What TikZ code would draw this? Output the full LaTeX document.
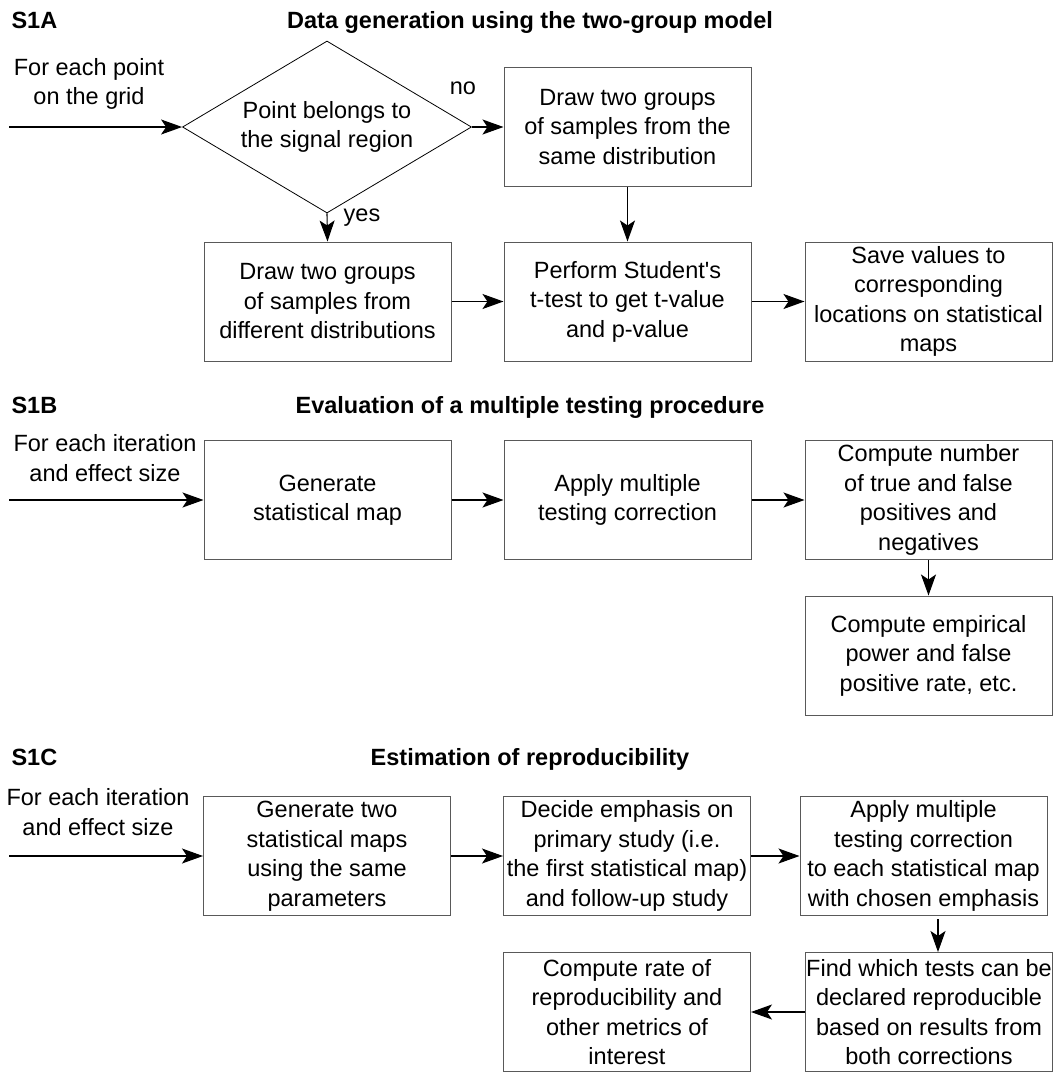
\documentclass[tikz,border=0pt]{standalone}
\usepackage{fontspec}
\setmainfont{Liberation Sans}
\usetikzlibrary{arrows.meta,shapes.geometric}

\begin{document}
\begin{tikzpicture}[x=1pt,y=-1pt,
    font=\fontsize{23.5}{29.5}\selectfont,
    blk/.style={draw=black!65,line width=1pt,minimum width=247pt,
        minimum height=119pt,inner sep=0pt,align=center},
    arr/.style={-{Stealth[length=21pt,width=15pt,inset=5pt]},line width=1.1pt},
    head/.style={font=\fontsize{23.5}{29.5}\selectfont\bfseries}]

\useasboundingbox (0,0) rectangle (1053,1072);

% Loop for each panel heading.
\foreach \lab/\ttl/\y in {S1A/Data generation using the two-group model/28,
                          S1B/Evaluation of a multiple testing procedure/413,
                          S1C/Estimation of reproducibility/765} {

    % Panel letter on the left.
    \node[head,anchor=base west] (lab\lab) at (8,\y) {\lab};

    % Panel title in the middle. End loop.
    \node[head,anchor=base] (ttl\lab) at (530,\y) {\ttl};
}

%
% S1A: data generation.
%
\coordinate (startA) at (9,127);
\node[align=center] (loopA) at (89,84) {For each point\\on the grid};

% decision diamond
\node[diamond,draw,line width=0.8pt,inner sep=0pt,shape aspect=1.68,
    minimum width=289pt,minimum height=172pt,align=center]
    (belong) at (327,127) {Point belongs to\\the signal region};

\node[blk] (samed) at (627.5,127)
    {Draw two groups\\of samples from the\\same distribution};
\node[blk] (diffd) at (327.5,301.5)
    {Draw two groups\\of samples from\\different distributions};
\node[blk] (ttest) at (627.5,301.5)
    {Perform Student\textquotesingle s\\t-test to get t-value\\and p-value};
\node[blk] (savemap) at (928.5,301.5)
    {Save values to\\corresponding\\locations on statistical\\maps};

% branch labels
\node (yes) at (362,218) {yes};
\node (no) at (463,88) {no};

\draw[arr] (startA) -- (belong.west);
\draw[arr] (belong.east) -- (samed.west);
\draw[arr] (belong.south) -- (diffd.north);
\draw[arr] (samed.south) -- (ttest.north);
\draw[arr] (diffd.east) -- (ttest.west);
\draw[arr] (ttest.east) -- (savemap.west);

%
% S1B: evaluation of a procedure.
%
\coordinate (startB) at (9,500);
\node[align=center] (loopB) at (105,458) {For each iteration\\and effect size};

\node[blk] (genmap) at (327.5,500) {Generate\\statistical map};
\node[blk] (corrB) at (627.5,500) {Apply multiple\\testing correction};
\node[blk] (counts) at (928.5,500)
    {Compute number\\of true and false\\positives and\\negatives};
\node[blk] (power) at (928.5,655.5)
    {Compute empirical\\power and false\\positive rate, etc.};

% chain of steps
\foreach \a/\b in {startB/genmap,genmap/corrB,corrB/counts} {
    \draw[arr] (\a) -- (\b.west);
}
\draw[arr] (counts.south) -- (power.north);

%
% S1C: reproducibility.
%
\coordinate (startC) at (9,856);
\node[align=center] (loopC) at (98,812) {For each iteration\\and effect size};

\node[blk] (twomaps) at (327,856)
    {Generate two\\statistical maps\\using the same\\parameters};
\node[blk] (emph) at (627,856)
    {Decide emphasis on\\primary study (i.e.\\the first statistical map)\\and follow-up study};
\node[blk] (corrC) at (923.5,856)
    {Apply multiple\\testing correction\\to each statistical map\\with chosen emphasis};
\node[blk] (findrep) at (929,1012)
    {Find which tests can be\\declared reproducible\\based on results from\\both corrections};
\node[blk] (rate) at (627,1012)
    {Compute rate of\\reproducibility and\\other metrics of\\interest};

% chain of steps
\foreach \a/\b in {startC/twomaps,twomaps/emph,emph/corrC} {
    \draw[arr] (\a) -- (\b.west);
}
% go down, slightly right of centre
\draw[arr] ([xshift=14.5pt,yshift=-3pt]corrC.south) -- ([xshift=9pt]findrep.north);
\draw[arr] (findrep.west) -- (rate.east);

\end{tikzpicture}
\end{document}
